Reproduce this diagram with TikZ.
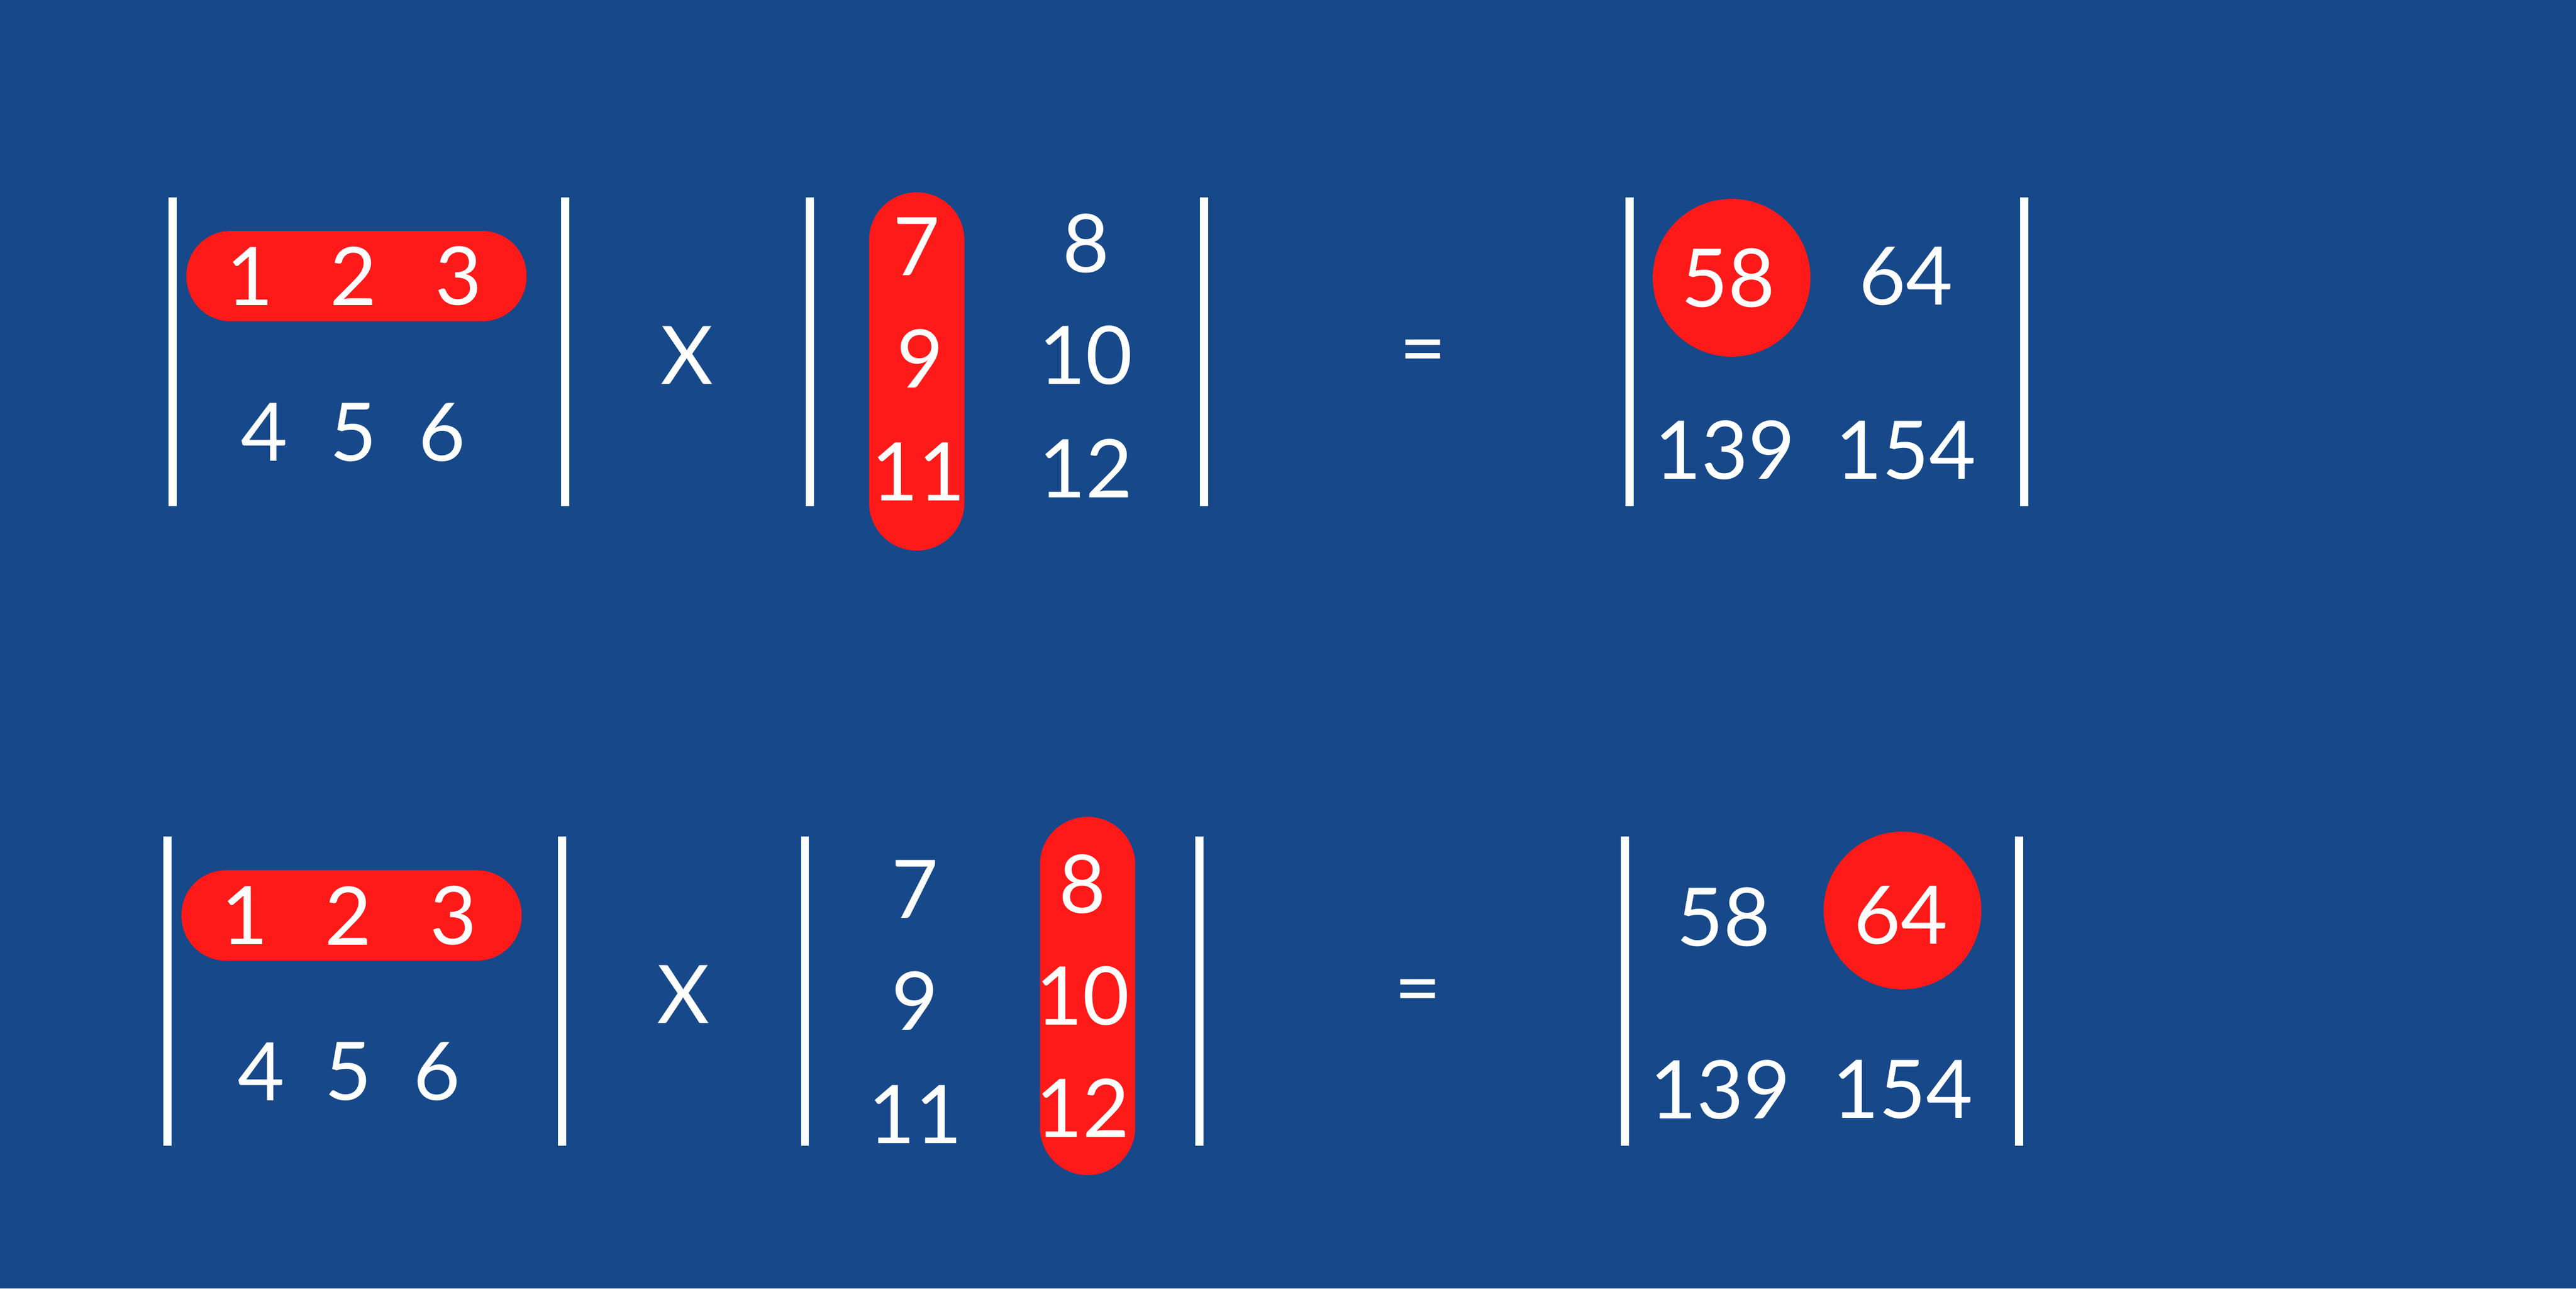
\documentclass[tikz,border=0pt]{standalone}
\usepackage{fontspec}
\setmainfont{Lato}
\usepackage{tikz}
\usetikzlibrary{shapes}

\definecolor{bgblue}{HTML}{16488A}
\definecolor{hired}{HTML}{FF1A1A}

\tikzset{
    num/.style={text=white, inner sep=0pt, font=\fontsize{14}{14}\selectfont},
    bar/.style={white, line width=0.05cm},
    rowpill/.style={rectangle, fill=hired, rounded corners=0.27cm, minimum width=2.07cm, minimum height=0.55cm, inner sep=0pt},
    colpill/.style={rectangle, fill=hired, rounded corners=0.29cm, minimum width=0.58cm, minimum height=2.18cm, inner sep=0pt},
    hit/.style={circle, fill=hired, minimum size=0.96cm, inner sep=0pt}
}

\begin{document}
\begin{tikzpicture}

    \fill[bgblue] (0,0) rectangle (15.68,7.84);
    \useasboundingbox (0,0) rectangle (15.68,7.84);

    % first product: row 1 times column 1
    \draw[bar] (1.05,6.64) -- (1.05,4.76);
    \draw[bar] (3.44,6.64) -- (3.44,4.76);
    \node[rowpill] (RA) at (2.17,6.16) {};
    \node[num] (A11) at (1.52,6.16) {1};
    \node[num] (A12) at (2.15,6.16) {2};
    \node[num] (A13) at (2.79,6.16) {3};
    \node[num] (A21) at (1.61,5.21) {4};
    \node[num] (A22) at (2.15,5.21) {5};
    \node[num] (A23) at (2.69,5.21) {6};

    \node[num] (X) at (4.18,5.68) {X};

    \draw[bar] (4.93,6.64) -- (4.93,4.76);
    \draw[bar] (7.33,6.64) -- (7.33,4.76);
    \node[colpill] (CB) at (5.58,5.58) {};
    \node[num] (B11) at (5.58,6.34) {7};
    \node[num] (B21) at (5.60,5.66) {9};
    \node[num] (B31) at (5.59,4.97) {11};
    \node[num] (B12) at (6.61,6.36) {8};
    \node[num] (B22) at (6.61,5.68) {10};
    \node[num] (B32) at (6.61,4.99) {12};

    \node[num] (EQ) at (8.66,5.66) {=};

    \draw[bar] (9.92,6.64) -- (9.92,4.76);
    \draw[bar] (12.32,6.64) -- (12.32,4.76);
    \node[hit] (H) at (10.54,6.15) {};
    \node[num] (C11) at (10.52,6.15) {58};
    \node[num] (C12) at (11.60,6.16) {64};
    \node[num] (C21) at (10.50,5.10) {139};
    \node[num] (C22) at (11.60,5.10) {154};

    % second product: row 1 times column 2
    \draw[bar] (1.02,2.75) -- (1.02,0.87);
    \draw[bar] (3.42,2.75) -- (3.42,0.87);
    \node[rowpill] (RA') at (2.14,2.27) {};
    \node[num] (A11') at (1.49,2.27) {1};
    \node[num] (A12') at (2.12,2.27) {2};
    \node[num] (A13') at (2.76,2.27) {3};
    \node[num] (A21') at (1.59,1.32) {4};
    \node[num] (A22') at (2.12,1.32) {5};
    \node[num] (A23') at (2.66,1.32) {6};

    \node[num] (X') at (4.16,1.79) {X};

    \draw[bar] (4.90,2.75) -- (4.90,0.87);
    \draw[bar] (7.30,2.75) -- (7.30,0.87);
    \node[colpill] (CB') at (6.62,1.78) {};
    \node[num] (B11') at (5.57,2.43) {7};
    \node[num] (B21') at (5.57,1.75) {9};
    \node[num] (B31') at (5.57,1.06) {11};
    \node[num] (B12') at (6.59,2.46) {8};
    \node[num] (B22') at (6.59,1.78) {10};
    \node[num] (B32') at (6.59,1.10) {12};

    \node[num] (EQ') at (8.63,1.77) {=};

    \draw[bar] (9.89,2.75) -- (9.89,0.87);
    \draw[bar] (12.29,2.75) -- (12.29,0.87);
    \node[hit] (H') at (11.58,2.30) {};
    \node[num] (C11') at (10.49,2.26) {58};
    \node[num] (C12') at (11.57,2.27) {64};
    \node[num] (C21') at (10.47,1.21) {139};
    \node[num] (C22') at (11.58,1.21) {154};

\end{tikzpicture}
\end{document}
